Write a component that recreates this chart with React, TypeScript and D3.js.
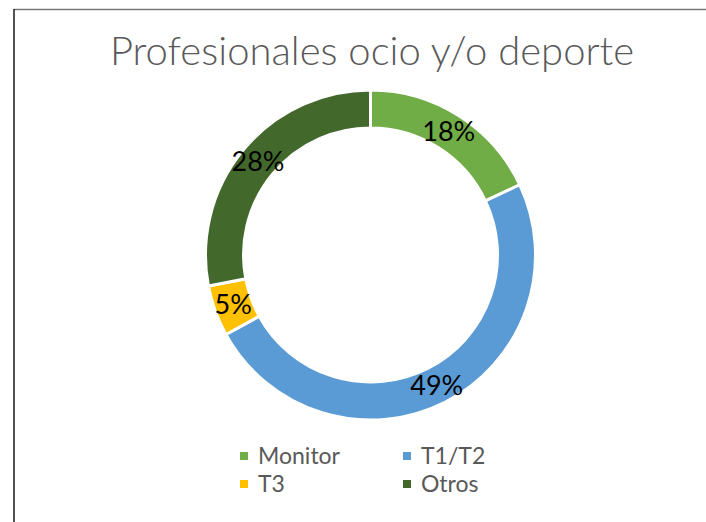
import React, { useEffect, useRef } from "react";
import * as d3 from "d3";

const categories = ["Monitor", "T1/T2", "T3", "Otros"];
const values = [18, 49, 5, 28];
const colors = ["#70ad47", "#5b9bd5", "#ffc000", "#43682b"];
const title = "Profesionales ocio y/o deporte";

const W = 706;
const H = 522;

export default function App() {
  const ref = useRef<SVGSVGElement>(null);

  useEffect(() => {
    const svg = d3.select(ref.current);
    svg.selectAll("*").remove();

    // chart frame (only top and left edges visible)
    svg.append("line").attr("x1", 14).attr("x2", W).attr("y1", 9.5).attr("y2", 9.5)
      .attr("stroke", "#787878").attr("stroke-width", 1.5);
    svg.append("line").attr("x1", 14).attr("x2", 14).attr("y1", 9).attr("y2", H)
      .attr("stroke", "#1a1a1a").attr("stroke-width", 1.5);

    svg.append("text")
      .attr("x", 372)
      .attr("y", 65)
      .attr("text-anchor", "middle")
      .attr("font-family", "Lato")
      .attr("font-weight", 300)
      .attr("font-size", 40)
      .attr("fill", "#595959")
      .text(title);

    const cx = 370.5, cy = 255;
    const g = svg.append("g").attr("transform", `translate(${cx},${cy})`);

    const pie = d3.pie<number>().sort(null).value(d => d);
    const arcs = pie(values);
    const arc = d3.arc<d3.PieArcDatum<number>>().innerRadius(127).outerRadius(165);

    g.selectAll("path.slice")
      .data(arcs)
      .join("path")
      .attr("class", "slice")
      .attr("d", arc)
      .attr("fill", (d, i) => colors[i])
      .attr("stroke", "#fff")
      .attr("stroke-width", 3);

    g.selectAll("text.lbl")
      .data(arcs)
      .join("text")
      .attr("class", "lbl")
      .attr("transform", d => `translate(${arc.centroid(d)})`)
      .attr("text-anchor", "middle")
      .attr("dy", "0.35em")
      .attr("font-family", "Lato")
      .attr("font-size", 27)
      .attr("fill", "#000")
      .text(d => `${d.data}%`);

    // legend, 2 columns
    const legX = [240, 403];
    const legY = [456, 484];
    const leg = svg.selectAll("g.leg")
      .data(categories)
      .join("g")
      .attr("class", "leg")
      .attr("transform", (d, i) => `translate(${legX[i % 2]},${legY[Math.floor(i / 2)]})`);
    leg.append("rect").attr("x", 0).attr("y", -4).attr("width", 8).attr("height", 8)
      .attr("fill", (d, i) => colors[i]);
    leg.append("text")
      .attr("x", 18)
      .attr("y", 0)
      .attr("dy", "0.35em")
      .attr("font-family", "Lato")
      .attr("font-size", 23)
      .attr("fill", "#595959")
      .text(d => d);
  }, []);

  return (
    <svg
      ref={ref}
      width={W}
      height={H}
      style={{ position: "absolute", left: 0, top: 0, background: "#fff" }}
    />
  );
}
